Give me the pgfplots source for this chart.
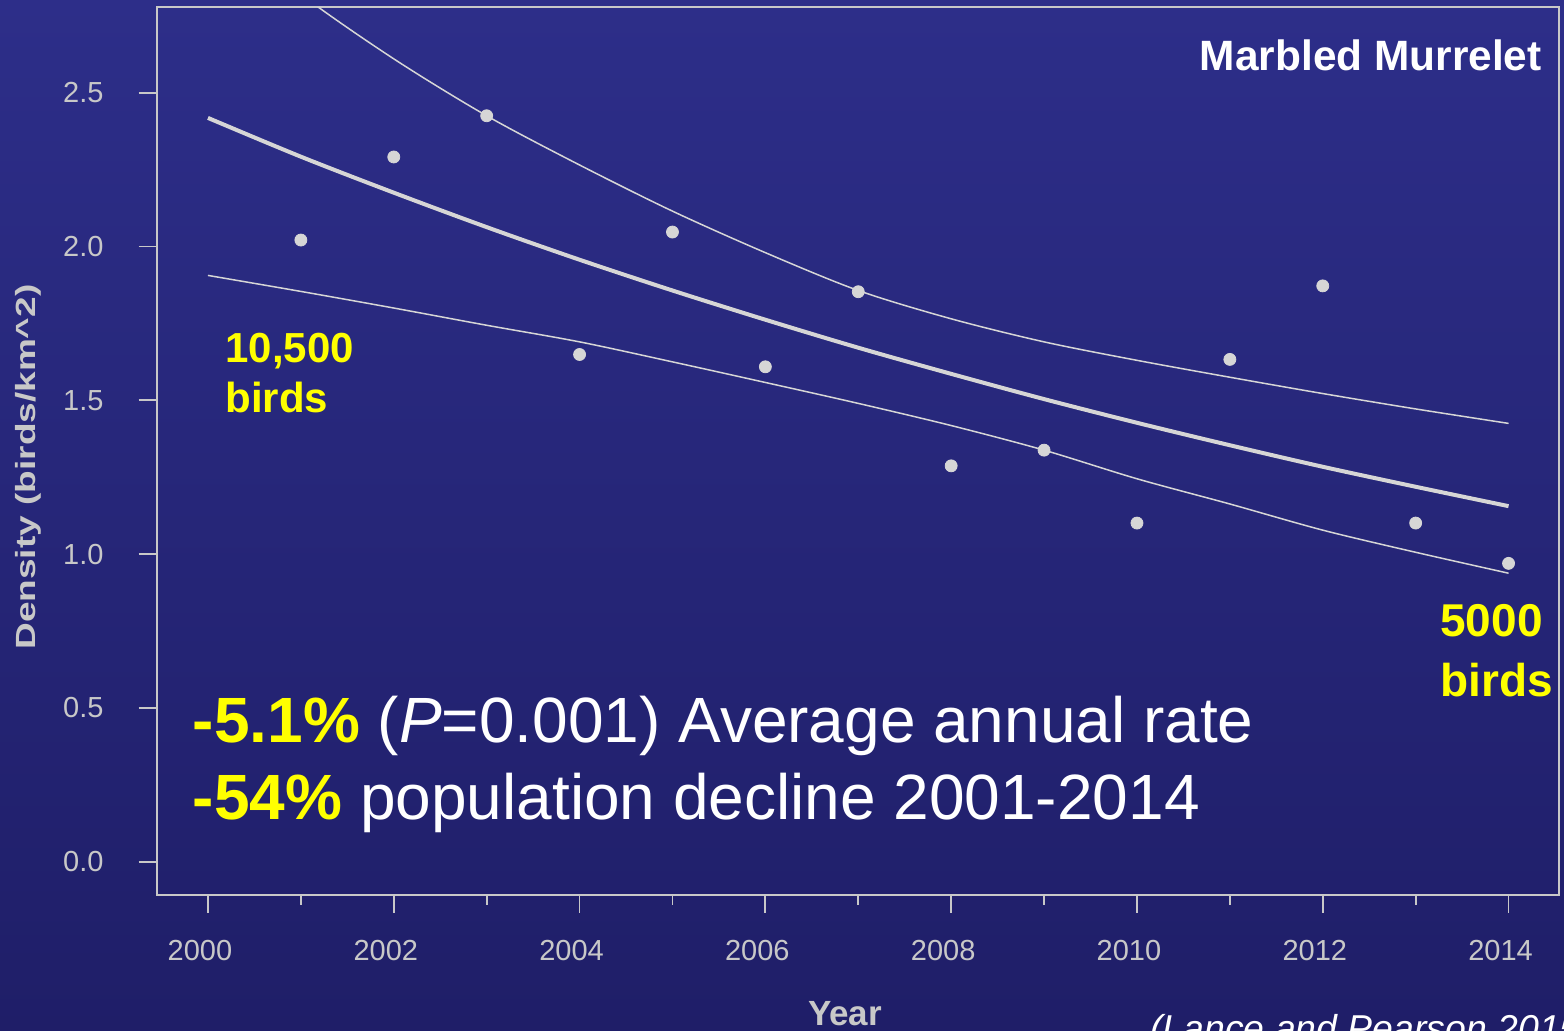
\documentclass[border=0pt]{standalone}
\usepackage{fontspec}
\setmainfont{Liberation Sans}
\usepackage{pgfplots}
\pgfplotsset{compat=1.18}

\definecolor{bgtop}{RGB}{45,46,137}
\definecolor{bgbot}{RGB}{31,30,104}
\definecolor{ink}{RGB}{214,214,214}
\definecolor{frame}{RGB}{200,200,200}
\definecolor{ticktext}{RGB}{200,200,200}
\definecolor{hl}{RGB}{255,255,0}

\begin{document}
\begin{tikzpicture}
\useasboundingbox (0,0) rectangle (782pt,515.5pt);
\clip (0,0) rectangle (782pt,515.5pt);
\shade[top color=bgtop, bottom color=bgbot] (0,0) rectangle (782pt,515.5pt);

\begin{axis}[
  at={(78.25pt,68pt)}, anchor=south west,
  scale only axis, width=701.25pt, height=443.75pt,
  xmin=1999.446, xmax=2014.543, ymin=-0.108, ymax=2.777,
  axis line style={frame, line width=1pt},
  xtick pos=left, ytick pos=left,
  xtick={2000,2002,...,2014},
  minor xtick={2001,2003,...,2013},
  ytick={0,0.5,1,1.5,2,2.5},
  tick align=outside,
  major tick length=9pt, minor tick length=5pt,
  every tick/.style={frame, line width=0.9pt},
  /pgf/number format/assume math mode=true,
  scaled x ticks=false,
  xticklabel style={font=\fontsize{14.5}{17}\selectfont, text=ticktext,
    /pgf/number format/1000 sep={}, xshift=-4pt, yshift=-10pt},
  yticklabel style={font=\fontsize{14.5}{17}\selectfont, text=ticktext,
    /pgf/number format/.cd, fixed, fixed zerofill, precision=1,
    /tikz/.cd, xshift=-14pt},
]
% annual survey densities
\addplot[only marks, mark=*, mark size=3pt, mark options={draw=ink, fill=ink}]
  coordinates {
  (2001,2.021) (2002,2.291) (2003,2.425) (2004,1.649) (2005,2.047)
  (2006,1.609) (2007,1.853) (2008,1.287) (2009,1.338) (2010,1.101)
  (2011,1.633) (2012,1.872) (2013,1.101) (2014,0.970)};
% fitted exponential trend
\addplot[smooth, ink, line width=2pt] coordinates {
  (2000,2.418) (2001,2.292) (2002,2.175) (2003,2.063) (2004,1.957)
  (2005,1.857) (2006,1.762) (2007,1.671) (2008,1.586) (2009,1.504)
  (2010,1.427) (2011,1.354) (2012,1.284) (2013,1.219) (2014,1.156)};
% upper confidence bound
\addplot[smooth, ink, line width=0.75pt] coordinates {
  (2000,3.070) (2001,2.820) (2002,2.610) (2003,2.425) (2004,2.265)
  (2005,2.115) (2006,1.980) (2007,1.857) (2008,1.765) (2009,1.690)
  (2010,1.630) (2011,1.575) (2012,1.522) (2013,1.472) (2014,1.425)};
% lower confidence bound
\addplot[smooth, ink, line width=0.75pt] coordinates {
  (2000,1.906) (2001,1.854) (2002,1.800) (2003,1.744) (2004,1.690)
  (2005,1.625) (2006,1.558) (2007,1.490) (2008,1.418) (2009,1.338)
  (2010,1.245) (2011,1.163) (2012,1.078) (2013,1.006) (2014,0.938)};
\end{axis}

% axis titles
\node[rotate=90, anchor=base, text=ticktext, inner sep=0pt]
  at (17.5pt,282pt) {\scalebox{1}[0.75]{\fontsize{18.5}{20}\selectfont\bfseries Density (birds/km\^{}2)}};
\node[anchor=base, text=ticktext, inner sep=0pt]
  at (422.5pt,2.5pt) {\fontsize{17.5}{20}\selectfont\bfseries Year};
\node[anchor=base west, text=white, inner sep=0pt]
  at (575pt,-5.4pt) {\fontsize{18.7}{20}\selectfont\itshape (Lance and Pearson 2015)};

% species name
\node[anchor=base east, text=white, inner sep=0pt]
  at (771pt,480pt) {\fontsize{21.2}{24}\selectfont\bfseries Marbled Murrelet};

% population estimates
\node[anchor=base west, text=hl, inner sep=0pt]
  at (112.5pt,334pt) {\fontsize{21}{24}\selectfont\bfseries 10,500};
\node[anchor=base west, text=hl, inner sep=0pt]
  at (112.5pt,309pt) {\fontsize{21}{24}\selectfont\bfseries birds};
\node[anchor=base west, text=hl, inner sep=0pt]
  at (720pt,197.2pt) {\fontsize{23}{26}\selectfont\bfseries 5000};
\node[anchor=base west, text=hl, inner sep=0pt]
  at (720pt,167.2pt) {\fontsize{23}{26}\selectfont\bfseries birds};

% summary statistics
\node[anchor=base west, text=white, inner sep=0pt]
  at (96.25pt,144pt) {\fontsize{32}{36}\selectfont{\color{hl}\bfseries -5.1\%} (\textit{P}=0.001) Average annual rate};
\node[anchor=base west, text=white, inner sep=0pt]
  at (96.25pt,105.5pt) {\fontsize{32}{36}\selectfont{\color{hl}\bfseries -54\%} population decline 2001-2014};
\end{tikzpicture}
\end{document}
